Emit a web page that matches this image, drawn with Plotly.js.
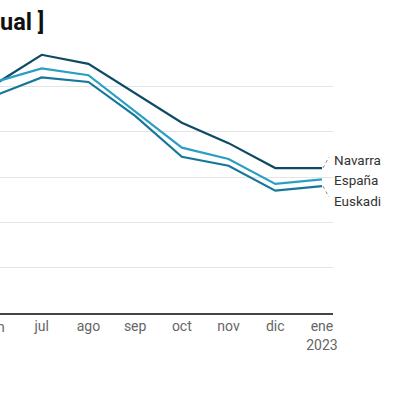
<!DOCTYPE html>
<html><head><meta charset="utf-8">
<script src="https://cdn.plot.ly/plotly-3.0.1.min.js"></script>
<style>html,body{margin:0;padding:0;background:#fff;overflow:hidden}#c{width:400px;height:400px}</style>
</head><body><div id="c"></div>
<script>
var months = ["jun","jul","ago","sep","oct","nov","dic","ene"];
var tickLabels = ["jun","jul","ago","sep","oct","nov","dic","ene<br>2023"];
var navarra = [10.1, 11.4, 11.0, 9.7, 8.4, 7.5, 6.4, 6.4];
var espana  = [10.2, 10.8, 10.5, 8.9, 7.3, 6.8, 5.7, 5.9];
var euskadi = [9.6, 10.4, 10.2, 8.7, 6.9, 6.5, 5.4, 5.6];
var names = ["Navarra","España","Euskadi"];
var colors = ["#0e4a66","#2a9fc4","#16779a"];
var series = [navarra, espana, euskadi];
var labelShift = [8, -1, -15];

var idx = months.map(function(m,i){return i;});
var xr = [0.107, 7.236];
var plotW = 333;
var pxPerUnit = plotW / (xr[1] - xr[0]);
var traces = series.map(function(s,k){
  return {x: idx, y: s, type:"scatter", mode:"lines", name:names[k],
    line:{color:colors[k], width:2.2}, hoverinfo:"skip"};
});
var last = months.length - 1;
var annotations = series.map(function(s,k){
  return {xref:"x", yref:"y", x:last, y:s[last], text:names[k], showarrow:false,
    xanchor:"left", yanchor:"middle", xshift:10, yshift:labelShift[k],
    font:{family:"Roboto", size:13.5, color:"#333"}};
});
annotations.push({xref:"paper", yref:"paper", x:0, xanchor:"center", xshift:(idx[0]-xr[0])*pxPerUnit,
  y:0, yanchor:"top", yshift:-4,
  text:tickLabels[0], showarrow:false, font:{family:"Roboto", size:14, color:"#666"}});
annotations.push({xref:"paper", yref:"paper", x:0, xanchor:"left", xshift:-2, y:1, yanchor:"bottom", yshift:10,
  text:"<b>ual ]</b>", showarrow:false, font:{family:"Roboto", size:23.5, color:"#111"}});
var shapes = [];
[0,2].forEach(function(k){
  var s = series[k];
  var up = labelShift[k] > 0;
  shapes.push({type:"line", xref:"x", yref:"y", xsizemode:"pixel", ysizemode:"pixel",
    xanchor:last, yanchor:s[last], x0:1, x1:7, y0:0, y1: up ? 11 : -11,
    line:{color:"#888", width:1, dash:"dot"}});
});
var layout = {
  width:400, height:400, margin:{l:0, r:400-plotW, t:48, b:87},
  paper_bgcolor:"#fff", plot_bgcolor:"#fff", showlegend:false,
  xaxis:{range:xr, tickmode:"array", tickvals:idx.slice(1), ticktext:tickLabels.slice(1),
    showgrid:false, zeroline:false, showline:true, linecolor:"#444", linewidth:1.5,
    ticks:"", tickfont:{family:"Roboto", size:14, color:"#666"}, fixedrange:true},
  yaxis:{range:[0, 11.7], tickvals:[0,2,4,6,8,10], showticklabels:false, showgrid:true,
    gridcolor:"#e4e4e4", gridwidth:1, zeroline:false, ticks:"", fixedrange:true},
  annotations: annotations, shapes: shapes
};
Plotly.newPlot("c", traces, layout, {displayModeBar:false, staticPlot:true});
</script></body></html>
